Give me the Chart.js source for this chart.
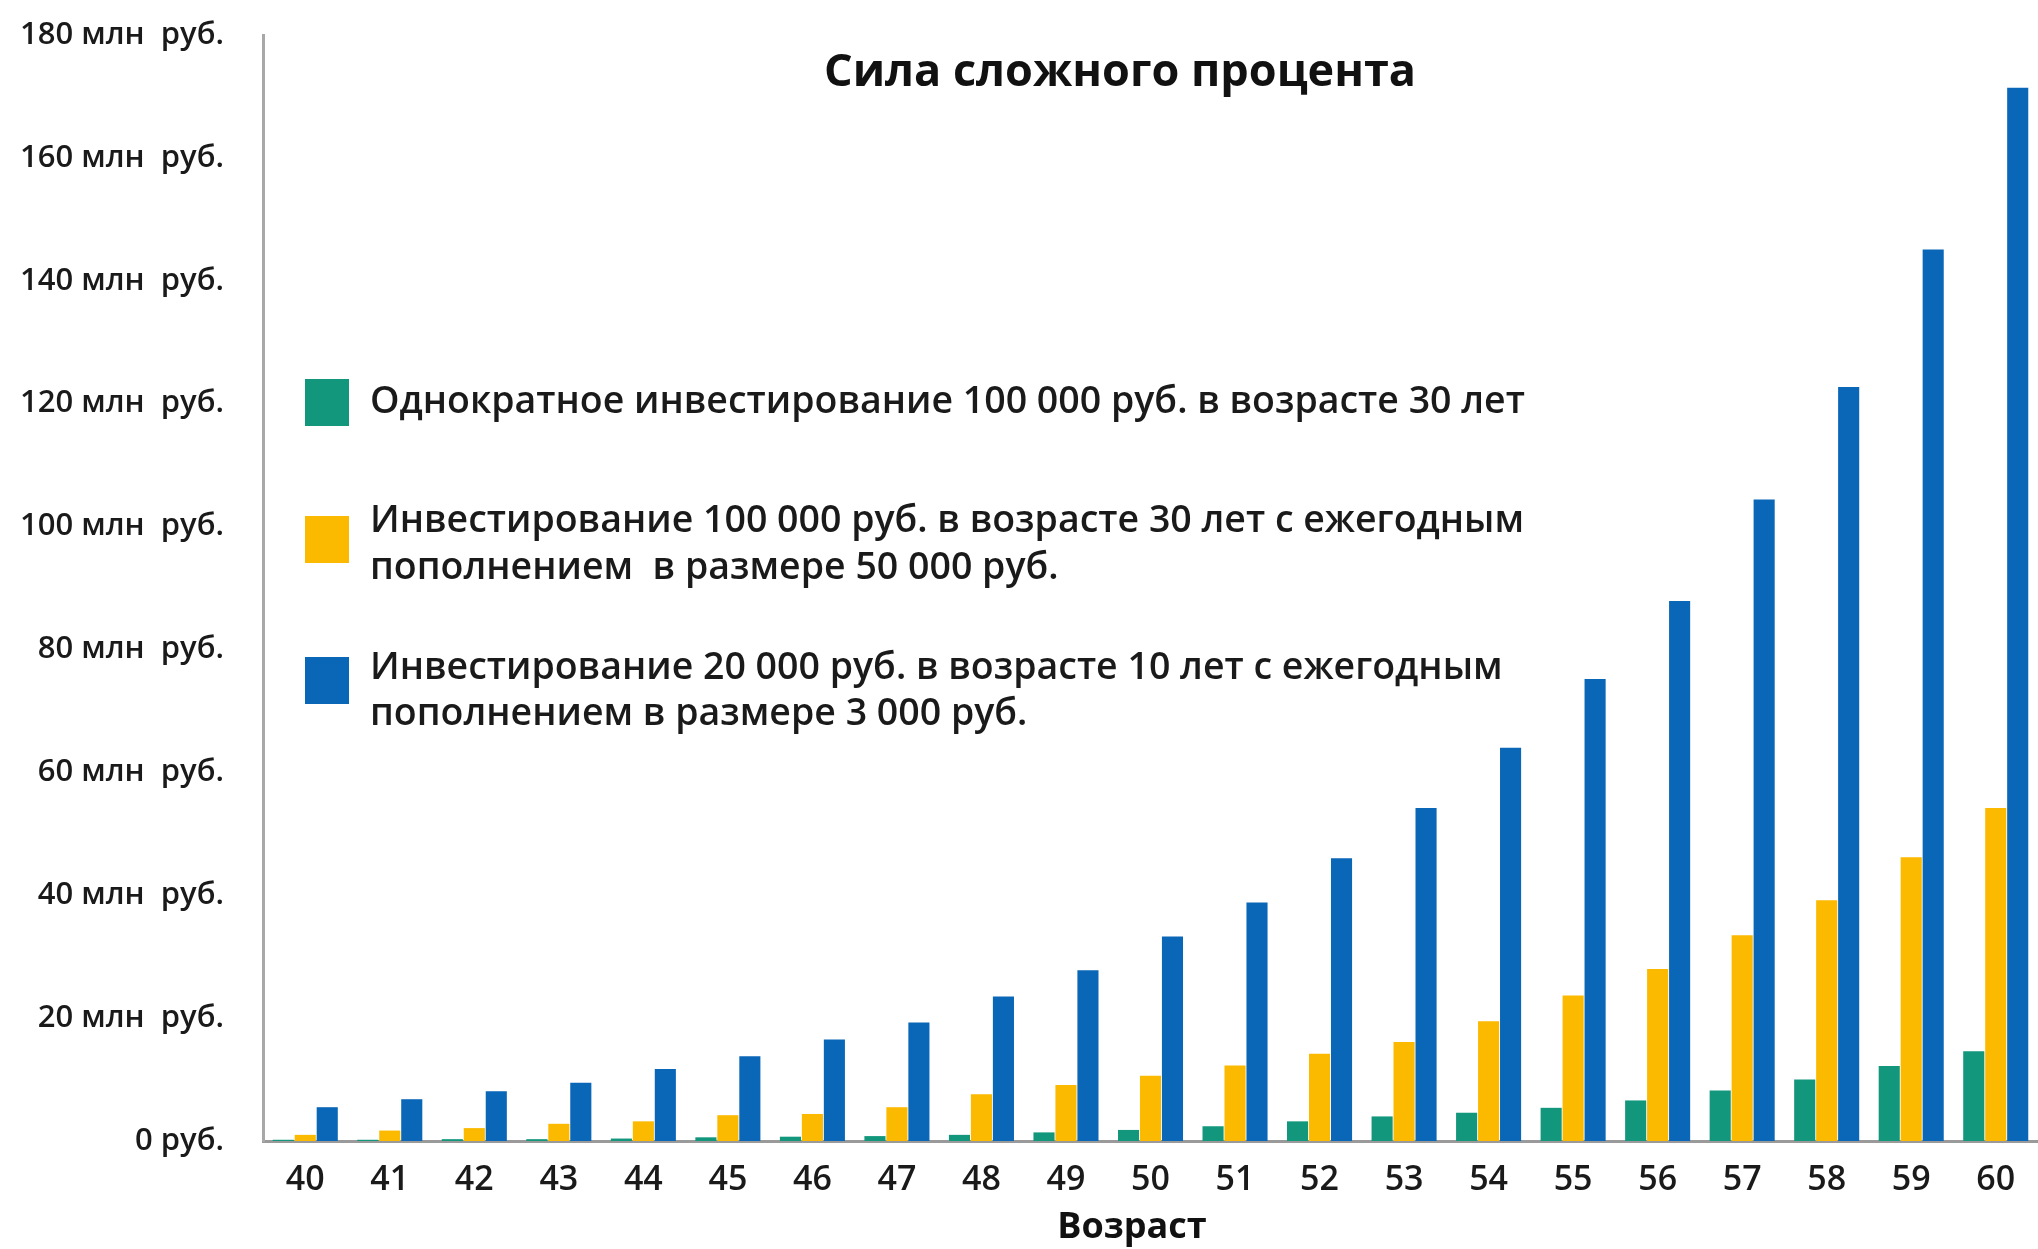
<!DOCTYPE html>
<html lang="ru">
<head>
    <meta charset="UTF-8">
    <title>Сила сложного процента</title>
    <style>
        body {
            margin: 0;
            padding: 0;
            background: #fff;
        }
        canvas {
            display: block;
        }
    </style>
</head>
<body>
    <canvas id="compound-chart" width="2038" height="1249"></canvas>

    <script src="https://cdn.jsdelivr.net/npm/chart.js"></script>
    <script>
        // ages on the x axis
        const ages = ['40', '41', '42', '43', '44', '45', '46', '47', '48', '49', '50',
                      '51', '52', '53', '54', '55', '56', '57', '58', '59', '60'];

        // values in million rubles
        const oneTimeValues = [0.2, 0.2, 0.3, 0.3, 0.4, 0.6, 0.7, 0.8, 1.0, 1.4, 1.8,
                               2.4, 3.2, 4.0, 4.6, 5.4, 6.6, 8.2, 10.0, 12.2, 14.6];
        const topUp50kValues = [1.0, 1.7, 2.1, 2.8, 3.2, 4.2, 4.4, 5.5, 7.6, 9.1, 10.6,
                                12.3, 14.2, 16.1, 19.5, 23.7, 28.0, 33.5, 39.2, 46.2, 54.2];
        const topUp3kValues = [5.5, 6.8, 8.1, 9.5, 11.7, 13.8, 16.5, 19.3, 23.5, 27.8, 33.3,
                               38.8, 46.0, 54.2, 64.0, 75.2, 87.9, 104.4, 122.7, 145.1, 171.4];

        const yTickLabels = ['0 руб.', '20 млн  руб.', '40 млн  руб.', '60 млн  руб.', '80 млн  руб.',
                             '100 млн  руб.', '120 млн  руб.', '140 млн  руб.', '160 млн  руб.', '180 млн  руб.'];

        const legendLines = [
            ['Однократное инвестирование 100 000 руб. в возрасте 30 лет'],
            ['Инвестирование 100 000 руб. в возрасте 30 лет с ежегодным', 'пополнением  в размере 50 000 руб.'],
            ['Инвестирование 20 000 руб. в возрасте 10 лет с ежегодным', 'пополнением в размере 3 000 руб.']
        ];

        const chartTitle = 'Сила сложного процента';
        const xAxisTitle = 'Возраст';
        const fontFamily = '"Open Sans", "Noto Sans", sans-serif';

        // title, axis name and multi-line legend are placed by hand
        const overlayPlugin = {
            id: 'overlay',
            afterDraw(chart) {
                const ctx = chart.ctx;
                const area = chart.chartArea;
                ctx.save();
                ctx.fillStyle = '#111';
                ctx.textBaseline = 'middle';
                ctx.textAlign = 'center';

                ctx.font = '700 45px ' + fontFamily;
                ctx.fillText(chartTitle, area.left + 857, 73);

                ctx.font = '700 36px ' + fontFamily;
                ctx.fillText(xAxisTitle, area.left + 869, 1228);

                ctx.textAlign = 'left';
                ctx.font = '600 37.5px ' + fontFamily;
                const boxCenters = [402, 539, 680];
                const lineOffsets = [[0], [-18, 29], [-12, 34]];
                chart.data.datasets.forEach((ds, i) => {
                    const cy = boxCenters[i];
                    ctx.fillStyle = ds.backgroundColor;
                    ctx.fillRect(area.left + 42, cy - 23, 44, 47);
                    ctx.fillStyle = '#1a1a1a';
                    legendLines[i].forEach((line, j) => {
                        ctx.fillText(line, area.left + 107, cy + lineOffsets[i][j]);
                    });
                });
                ctx.restore();
            }
        };

        const ctx = document.getElementById('compound-chart').getContext('2d');
        new Chart(ctx, {
            type: 'bar',
            data: {
                labels: ages,
                datasets: [
                    { label: legendLines[0].join(' '), data: oneTimeValues, backgroundColor: '#12977c' },
                    { label: legendLines[1].join(' '), data: topUp50kValues, backgroundColor: '#fbb900' },
                    { label: legendLines[2].join(' '), data: topUp3kValues, backgroundColor: '#0a66b6' }
                ]
            },
            options: {
                responsive: false,
                animation: false,
                layout: { padding: { top: 35, right: 0, left: 0, bottom: 0 } },
                datasets: {
                    bar: { categoryPercentage: 0.78, barPercentage: 0.96 }
                },
                plugins: {
                    legend: { display: false },
                    title: { display: false },
                    tooltip: { enabled: false }
                },
                scales: {
                    x: {
                        grid: { display: false, drawTicks: false },
                        border: { color: '#9a9a9a', width: 3 },
                        ticks: {
                            color: '#1a1a1a',
                            padding: 19,
                            font: { family: fontFamily, size: 34, weight: '600' }
                        },
                        afterFit(scale) { scale.height = 108; }
                    },
                    y: {
                        min: 0,
                        max: 180,
                        grid: { display: false, drawTicks: false },
                        border: { color: '#a8a8a8', width: 3 },
                        ticks: {
                            stepSize: 20,
                            color: '#1a1a1a',
                            padding: 39,
                            font: { family: fontFamily, size: 31, weight: '600' },
                            callback: (value, index) => yTickLabels[index]
                        },
                        afterFit(scale) {
                            scale.width = 263;
                            scale.paddingTop = 0;
                            scale.paddingBottom = 0;
                        }
                    }
                }
            },
            plugins: [overlayPlugin]
        });
    </script>
</body>
</html>
